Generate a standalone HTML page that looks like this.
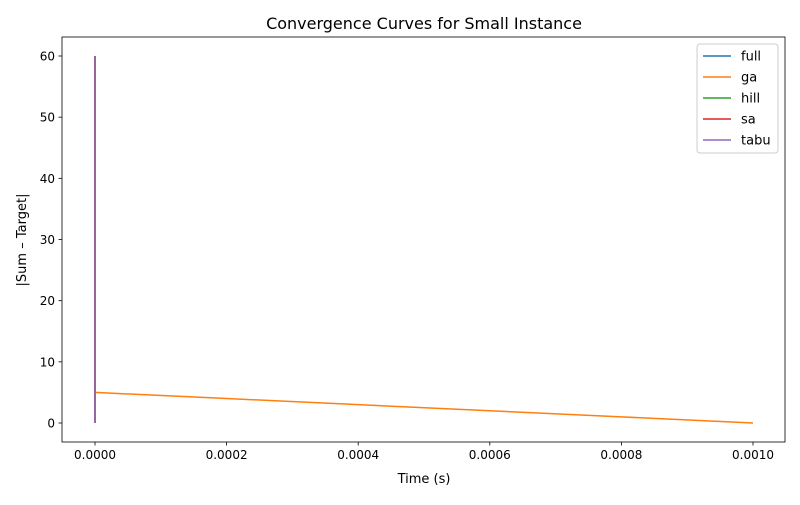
<!DOCTYPE html>
<html><head><meta charset="utf-8"><style>
body{margin:0;background:#fff;font-family:"Liberation Sans","DejaVu Sans",sans-serif}
svg text{font-family:"DejaVu Sans","Liberation Sans",sans-serif}
</style></head><body>
<svg id="chart" width="800" height="500" viewBox="0 0 800 500">
<rect width="800" height="500" fill="#fff"/>
<text x="424" y="29" text-anchor="middle" font-size="16">Convergence Curves for Small Instance</text>
<g id="plot"></g>
<rect x="62" y="37" width="723" height="405" fill="none" stroke="#000" stroke-width="0.8"/>
<text x="424" y="483" text-anchor="middle" font-size="13">Time (s)</text>
<text transform="translate(26,240) rotate(-90)" text-anchor="middle" font-size="13">|Sum – Target|</text>
<g id="legend"></g>
</svg>
<script>
const seriesNames=["full","ga","hill","sa","tabu"];
const seriesColors=["#1f77b4","#ff7f0e","#2ca02c","#d62728","#9467bd"];
const fullT=[0,0]; const fullV=[60,0];
const gaT=[0,0,0.0002,0.0004,0.0006,0.0008,0.001]; const gaV=[60,5,4,3,2,1,0];
const hillT=[0,0]; const hillV=[60,0];
const saT=[0,0]; const saV=[60,0];
const tabuT=[0,0]; const tabuV=[60,0];
const xTicks=[0,0.0002,0.0004,0.0006,0.0008,0.001];
const xTickLabels=["0.0000","0.0002","0.0004","0.0006","0.0008","0.0010"];
const yTicks=[0,10,20,30,40,50,60];
const yTickLabels=["0","10","20","30","40","50","60"];
const NS="http://www.w3.org/2000/svg";
const xs=v=>95+v/0.001*658;
const ys=v=>423-v/60*367;
const plot=document.getElementById('plot');
function mk(t,a){const e=document.createElementNS(NS,t);for(const k in a)e.setAttribute(k,a[k]);return e;}
xTicks.forEach((t,i)=>{
 const l=mk('line',{x1:xs(t),x2:xs(t),y1:442,y2:445.5,stroke:'#000','stroke-width':0.8});
 
 
 plot.appendChild(l);
 const tx=mk('text',{x:xs(t),y:459,'text-anchor':'middle','font-size':12});
 
 
 tx.textContent=xTickLabels[i];plot.appendChild(tx);
});
yTicks.forEach((t,i)=>{
 const l=mk('line',{x1:58.5,x2:62,y1:ys(t),y2:ys(t),stroke:'#000','stroke-width':0.8});
 
 
 plot.appendChild(l);
 const tx=mk('text',{x:55,y:ys(t)+4.5,'text-anchor':'end','font-size':12});
 
 
 tx.textContent=yTickLabels[i];plot.appendChild(tx);
});
const allT=[fullT,gaT,hillT,saT,tabuT], allV=[fullV,gaV,hillV,saV,tabuV];
allT.forEach((T,s)=>{
 const pts=T.map((t,i)=>xs(t)+','+ys(allV[s][i])).join(' ');
 const p=mk('polyline',{points:pts,fill:'none',stroke:seriesColors[s],'stroke-width':1.5});
 
 
 plot.appendChild(p);
});
const lg=document.getElementById('legend');
const box=mk('rect',{x:697,y:44,width:81,height:109,rx:3,fill:'#fff',stroke:'#ccc','stroke-width':1});


lg.appendChild(box);
seriesNames.forEach((n,i)=>{
 const y=56+i*21;
 const l=mk('line',{x1:703,x2:731,y1:y,y2:y,stroke:seriesColors[i],'stroke-width':1.5});
 
 
 lg.appendChild(l);
 const t=mk('text',{x:741,y:y+4.5,'font-size':13});
 
 
 t.textContent=n;lg.appendChild(t);
});
</script>
</body></html>
